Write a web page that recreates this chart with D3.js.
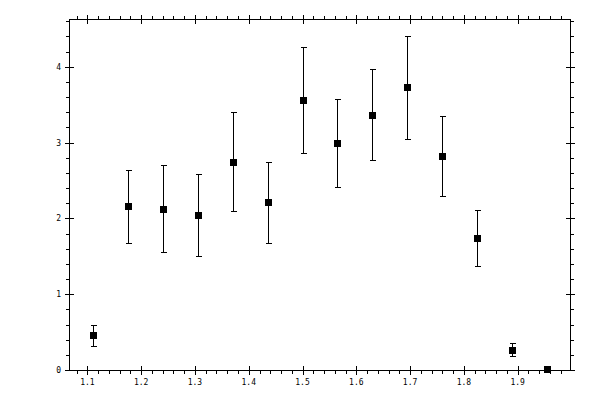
<!DOCTYPE html>
<html>
<head>
<meta charset="utf-8">
<script src="https://cdn.jsdelivr.net/npm/d3@7"></script>
<style>
  html, body { margin: 0; padding: 0; background: #fff; }
  svg { display: block; }
  text { font-family: "DejaVu Sans Mono", monospace; font-size: 8px; fill: #000; }
</style>
</head>
<body>
<svg id="chart" width="600" height="400"></svg>
<script>
const xValues = [1.11, 1.175, 1.24, 1.305, 1.37, 1.435, 1.5, 1.565, 1.63, 1.695, 1.76, 1.825, 1.89, 1.955];
const yValues = [0.46, 2.16, 2.13, 2.05, 2.75, 2.21, 3.56, 2.99, 3.37, 3.73, 2.82, 1.74, 0.27, 0.01];
const yErrors = [0.14, 0.48, 0.57, 0.54, 0.65, 0.53, 0.70, 0.58, 0.60, 0.68, 0.53, 0.37, 0.085, 0.0];
const xTickLabels = ["1.1", "1.2", "1.3", "1.4", "1.5", "1.6", "1.7", "1.8", "1.9"];
const yTickLabels = ["0", "1", "2", "3", "4"];

const L = 69, R = 570, T = 19, B = 370;
const svg = d3.select("#chart");

const x = d3.scaleLinear().domain([1.0658, 1.9973]).range([L, R]);
const y = d3.scaleLinear().domain([0, 4.63]).range([B, T]);

const g = svg.append("g").attr("shape-rendering", "crispEdges");

// frame
g.append("rect")
  .attr("x", L + 0.5).attr("y", T + 0.5)
  .attr("width", R - L).attr("height", B - T)
  .attr("fill", "none").attr("stroke", "#000").attr("stroke-width", 1);

const xMajor = xTickLabels.map(Number);
const xMinor = d3.range(54, 100).map(i => i * 0.02).filter(v => v >= x.domain()[0] && v <= x.domain()[1] && !xMajor.some(m => Math.abs(m - v) < 1e-6));
const yMajor = yTickLabels.map(Number);
const yMinor = d3.range(0, 24).map(i => i * 0.2).filter(v => v <= y.domain()[1] && !yMajor.some(m => Math.abs(m - v) < 1e-6));

const px = v => Math.round(x(v)) + 0.5;
const py = v => Math.round(y(v)) + 0.5;

// bottom & top ticks
xMajor.forEach(v => {
  g.append("line").attr("x1", px(v)).attr("x2", px(v)).attr("y1", B - 4).attr("y2", B + 5).attr("stroke", "#000");
  g.append("line").attr("x1", px(v)).attr("x2", px(v)).attr("y1", T - 4).attr("y2", T + 5).attr("stroke", "#000");
});
xMinor.forEach(v => {
  g.append("line").attr("x1", px(v)).attr("x2", px(v)).attr("y1", B).attr("y2", B + 4).attr("stroke", "#000");
  g.append("line").attr("x1", px(v)).attr("x2", px(v)).attr("y1", T - 3).attr("y2", T + 1).attr("stroke", "#000");
});
// left & right ticks
yMajor.forEach(v => {
  g.append("line").attr("y1", py(v)).attr("y2", py(v)).attr("x1", L - 4).attr("x2", L + 5).attr("stroke", "#000");
  g.append("line").attr("y1", py(v)).attr("y2", py(v)).attr("x1", R - 4).attr("x2", R + 5).attr("stroke", "#000");
});
yMinor.forEach(v => {
  g.append("line").attr("y1", py(v)).attr("y2", py(v)).attr("x1", L - 3).attr("x2", L + 1).attr("stroke", "#000");
  g.append("line").attr("y1", py(v)).attr("y2", py(v)).attr("x1", R).attr("x2", R + 4).attr("stroke", "#000");
});

// labels
svg.selectAll("text.xl").data(xTickLabels).enter().append("text")
  .attr("x", d => x(+d)).attr("y", 385)
  .attr("text-anchor", "middle").text(d => d);
svg.selectAll("text.yl").data(yTickLabels).enter().append("text")
  .attr("x", 61).attr("y", d => y(+d) + 3)
  .attr("text-anchor", "end").text(d => d);

// error bars
const data = xValues.map((xv, i) => ({ x: xv, y: yValues[i], e: yErrors[i] }));
const eb = g.append("g");
data.forEach(d => {
  if (d.e <= 0) return;
  const cx = px(d.x);
  eb.append("line").attr("x1", cx).attr("x2", cx).attr("y1", py(d.y + d.e)).attr("y2", py(d.y - d.e)).attr("stroke", "#000");
  eb.append("line").attr("x1", cx - 3).attr("x2", cx + 3).attr("y1", py(d.y + d.e)).attr("y2", py(d.y + d.e)).attr("stroke", "#000");
  eb.append("line").attr("x1", cx - 3).attr("x2", cx + 3).attr("y1", py(d.y - d.e)).attr("y2", py(d.y - d.e)).attr("stroke", "#000");
});

// markers
g.selectAll("rect.pt").data(data).enter().append("rect")
  .attr("x", d => Math.round(x(d.x)) - 3)
  .attr("y", d => Math.round(y(d.y)) - 3)
  .attr("width", 7).attr("height", 7)
  .attr("fill", "#000");
</script>
</body>
</html>
